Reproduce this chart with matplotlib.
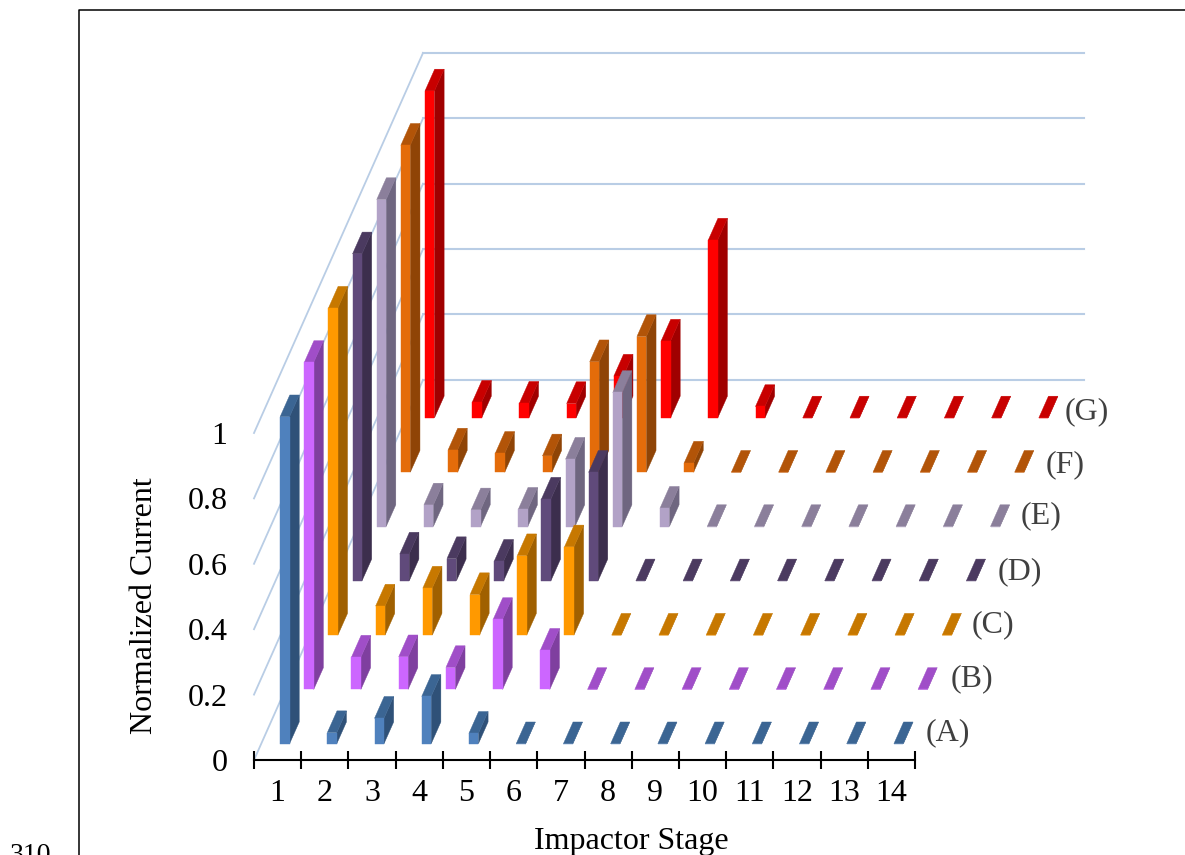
import matplotlib
matplotlib.use("Agg")
import matplotlib.pyplot as plt
from matplotlib.lines import Line2D

plt.rcParams['font.family'] = ['Liberation Serif', 'DejaVu Serif']

stages = list(range(1, 15))
y_ticks = [0, 0.2, 0.4, 0.6, 0.8, 1]
y_tick_labels = ['0', '0.2', '0.4', '0.6', '0.8', '1']
series_names = ['(A)', '(B)', '(C)', '(D)', '(E)', '(F)', '(G)']

# values, stage 1 to 14
A = [1.0, 0.034, 0.078, 0.145, 0.032, 0, 0, 0, 0, 0, 0, 0, 0, 0]
B = [1.0, 0.099, 0.100, 0.067, 0.214, 0.120, 0, 0, 0, 0, 0, 0, 0, 0]
C = [1.0, 0.089, 0.144, 0.124, 0.243, 0.270, 0, 0, 0, 0, 0, 0, 0, 0]
D = [1.0, 0.082, 0.068, 0.060, 0.250, 0.332, 0, 0, 0, 0, 0, 0, 0, 0]
E = [1.0, 0.066, 0.051, 0.053, 0.206, 0.410, 0.056, 0, 0, 0, 0, 0, 0, 0]
F = [1.0, 0.068, 0.058, 0.050, 0.338, 0.415, 0.028, 0, 0, 0, 0, 0, 0, 0]
G = [1.0, 0.048, 0.045, 0.044, 0.128, 0.235, 0.544, 0.035, 0, 0, 0, 0, 0, 0]
all_series = [A, B, C, D, E, F, G]

# front, side, top
colours = [
    ('#4F81BD', '#2F5178', '#3B6593'),
    ('#CC66FF', '#7F3F9F', '#A04EC8'),
    ('#FF9900', '#A06000', '#C77800'),
    ('#604A7B', '#3C2E4D', '#4B3A60'),
    ('#B2A2C7', '#6F6680', '#8B7F9B'),
    ('#E46C0A', '#8F4406', '#B25408'),
    ('#FF0000', '#A00000', '#C80000'),
]
grid_colour = '#B9CDE5'
label_nudge = [(-1, 0), (-1, 0), (-4, 0), (-2, -2), (-3, 0), (-2, -3), (-7, -5)]

W, H = 1185, 855
DEPTH_X = 24.14 / 47.2   # one series back, in stage units
DEPTH_Y = 54.3 / 327.0   # one series back, in value units
BAR_W = 0.2
BAR_D = 0.4


def project(s, d, z):
    # oblique view: s = stage position, d = depth position, z = value
    return s + d * DEPTH_X, z + d * DEPTH_Y


def face(ax, corners, colour):
    pts = [project(*c) for c in corners]
    ax.fill([p[0] for p in pts], [p[1] for p in pts], color=colour, lw=0.3, clip_on=False)


def bar(ax, s0, d0, val, cols):
    s1 = s0 + BAR_W
    d1 = d0 + BAR_D
    face(ax, [(s1, d0, 0), (s1, d1, 0), (s1, d1, val), (s1, d0, val)], cols[1])
    face(ax, [(s0, d0, val), (s1, d0, val), (s1, d1, val), (s0, d1, val)], cols[2])
    face(ax, [(s0, d0, 0), (s1, d0, 0), (s1, d0, val), (s0, d0, val)], cols[0])


fig = plt.figure(figsize=(W / 100, H / 100), dpi=100)
ax = fig.add_axes([254 / W, 1 - 760 / H, 661 / W, 327 / H])
ax.patch.set_visible(False)
ax.set_xlim(0, 14)
ax.set_ylim(0, 1)

# walls and floor
n_depth = len(all_series)
for t in y_ticks:
    x0, y0 = project(0, 0, t)
    x1, y1 = project(0, n_depth, t)
    x2, y2 = project(14, n_depth, t)
    ax.plot([x0, x1], [y0, y1], color=grid_colour, lw=1.3, clip_on=False, zorder=0.5)
    ax.plot([x1, x2], [y1, y2], color=grid_colour, lw=1.5, clip_on=False, zorder=0.5)

# back row first so the front rows cover it
for i in range(n_depth - 1, -1, -1):
    for j, v in enumerate(all_series[i]):
        bar(ax, j + 0.4, i + 0.3, v, colours[i])

for i, name in enumerate(series_names):
    ax.annotate(name, xy=project(14, i + 0.5, 0), xytext=(label_nudge[i][0] * 0.72, label_nudge[i][1] * 0.72),
                textcoords='offset points', ha='left', va='center', fontsize=23,
                color='#404040', annotation_clip=False)

for side in ['left', 'top', 'right']:
    ax.spines[side].set_visible(False)
ax.spines['bottom'].set_linewidth(1.5)

ax.set_yticks(y_ticks)
ax.set_yticklabels(y_tick_labels, fontsize=23, color='black')
ax.tick_params(axis='y', length=0, pad=19)

ax.set_xticks(range(15))
ax.set_xticklabels([])
ax.set_xticks([s - 0.5 for s in stages], minor=True)
ax.set_xticklabels([str(s) for s in stages], minor=True, fontsize=23)
ax.tick_params(axis='x', which='major', direction='inout', length=13, width=1.5)
ax.tick_params(axis='x', which='minor', length=0, pad=14)

ax.set_xlabel('Impactor Stage', fontsize=23, va='center')
ax.xaxis.set_label_coords((631 - 254) / 661, -(841 - 760) / 327)
ax.set_ylabel('Normalized Current', fontsize=23, va='center')
ax.yaxis.set_label_coords((145 - 254) / 661, (760 - 606) / 327)

# frame of the surrounding picture
fig.add_artist(Line2D([79 / W, 79 / W, 1], [0, 1 - 10 / H, 1 - 10 / H], color='black', lw=1.1))
fig.text(30 / W, 1 - 862 / H, '310', fontsize=20, ha='center', va='baseline')

fig.savefig('out.png', dpi=100)
